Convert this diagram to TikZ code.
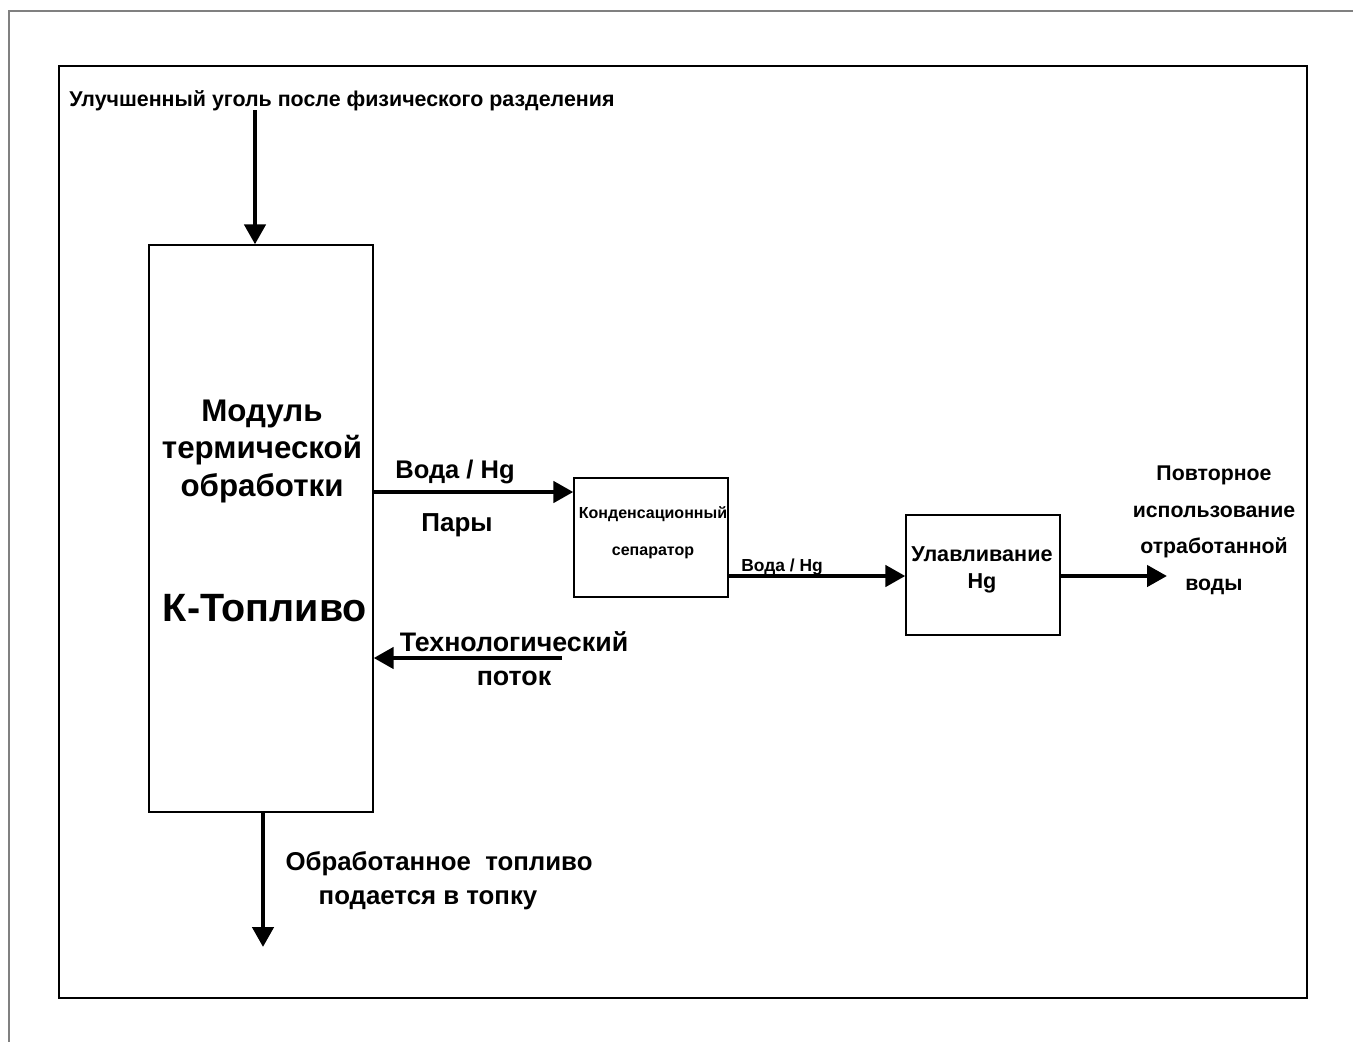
\documentclass[tikz,border=0pt]{standalone}
\usepackage{fontspec}
\setmainfont{Liberation Sans}
\usetikzlibrary{arrows.meta}
\tikzset{
  blk/.style={draw=black, line width=1.3pt, fill=none, inner sep=0pt},
  flow/.style={line width=4.5pt, -{Triangle[length=20pt,width=21pt]}},
  lbl/.style={inner sep=0pt, align=center, font=\bfseries},
}
\newcommand{\fs}[2]{\fontsize{#1}{#2}\selectfont\bfseries}
\begin{document}
\begin{tikzpicture}[x=1pt,y=-1pt]
\useasboundingbox (0,0) rectangle (1353,1042);
\fill[white] (0,0) rectangle (1353,1042);
% outer frame lines
\draw[gray, line width=2pt] (9,1042) -- (9,11) -- (1353,11);
% inner frame
\draw[line width=2pt] (59,66) rectangle (1307,998);

% boxes
\node[blk, minimum width=224pt, minimum height=567pt] (mod) at (261,528.5) {};
\node[blk, minimum width=154pt, minimum height=119pt] (cond) at (651,537.5) {};
\node[blk, minimum width=154pt, minimum height=120pt] (hg) at (983,575) {};

% texts
\node[lbl, font=\fs{21.4}{26}] (top) at (342,101) {Улучшенный уголь после физического разделения};
\node[lbl, font=\fs{31.3}{37.5}] (modt) at (262,451) {Модуль\\термической\\обработки};
\node[lbl, font=\fs{39.5}{44}] (kt) at (265,608) {К-Топливо};
\node[lbl, font=\fs{25.5}{30}] (voda1) at (455,472) {Вода / Hg};
\node[lbl, font=\fs{26}{30}] (pary) at (457,525) {Пары};
\node[lbl, font=\fs{16}{37}] (condt) at (653,533) {Конденсационный\\сепаратор};
\node[lbl, font=\fs{17.4}{22}] (voda2) at (782,567) {Вода / Hg};
\node[lbl, font=\fs{21.6}{26.5}] (hgt) at (982,570) {Улавливание\\Hg};
\node[lbl, font=\fs{21.3}{36.5}] (reuse) at (1214,530.5) {Повторное\\использование\\отработанной\\воды};
\node[lbl, font=\fs{26.8}{34}] (tech) at (514,659) {Технологический\\поток};
\node[lbl, font=\fs{25.8}{30}] (fuel1) at (439,864) {Обработанное\ \ топливо};
\node[lbl, font=\fs{25.8}{30}] (fuel2) at (428,900) {подается в топку};

% connector end points
\coordinate (in1) at (255,110);
\coordinate (out1) at (1167,576);
\coordinate (tf) at (562,658);
\coordinate (bot) at (263,947);

% connectors
\draw[flow] (in1) -- (in1 |- mod.north);
\draw[flow] (mod.east |- 0,492) -- (cond.west |- 0,492);
\draw[flow] (cond.east |- 0,576) -- (hg.west |- 0,576);
\draw[flow] (hg.east |- out1) -- (out1);
\draw[flow] (tf) -- (mod.east |- tf);
\draw[flow] (mod.south -| bot) -- (bot);
\end{tikzpicture}
\end{document}
